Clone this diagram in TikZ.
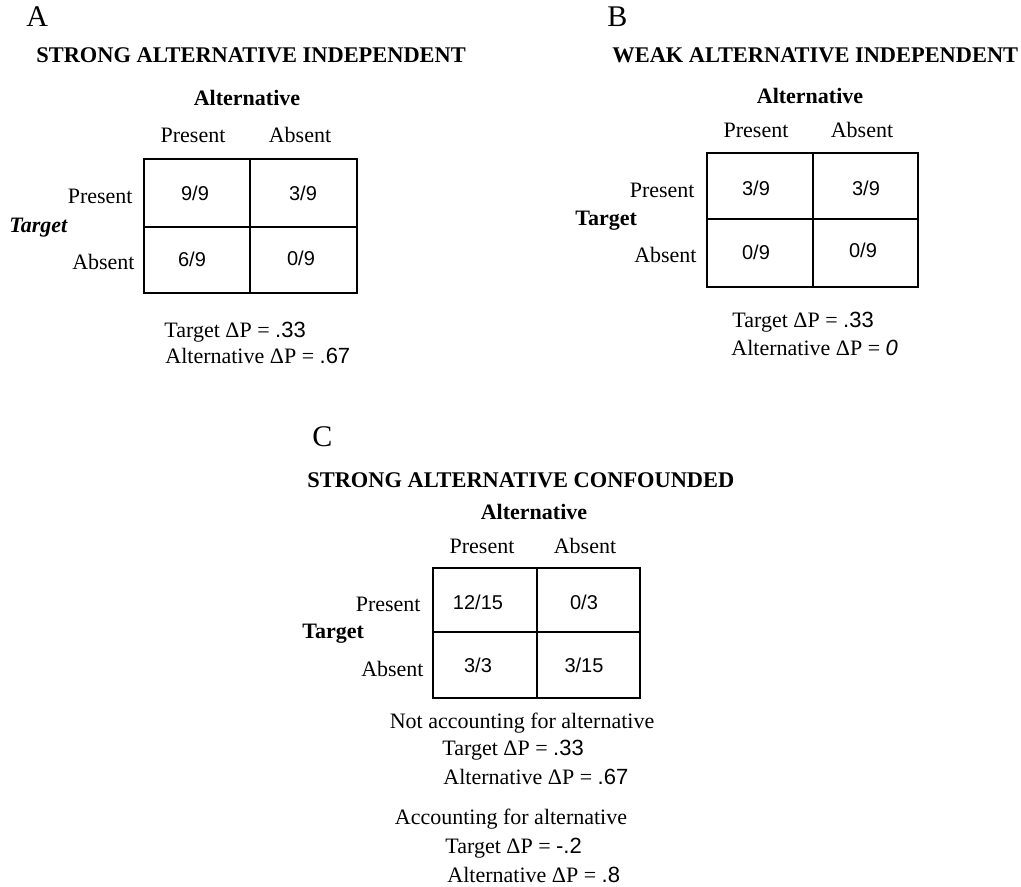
\documentclass[tikz,border=0pt]{standalone}
\usepackage{fontspec}
\setmainfont{Liberation Serif}
\newfontfamily\cellfont{Liberation Sans}

\begin{document}
\begin{tikzpicture}[x=0.5pt, y=-0.5pt, font=\fontsize{11}{13}\selectfont]
\tikzset{
  txt/.style={inner sep=0pt},
  letter/.style={txt, font=\fontsize{15}{17}\selectfont},
  heading/.style={txt, font=\bfseries\fontsize{11}{13}\selectfont},
  title/.style={txt, font=\bfseries\fontsize{11.2}{13}\selectfont},
  val/.style={txt, font=\cellfont\fontsize{10}{12}\selectfont},
  box/.style={line width=1pt}
}
\useasboundingbox (0,0) rectangle (1021,887);
%%
%panel A
\node[letter, anchor=base west] (A) at (26,27) {A};
\node[title, anchor=base west] (titleA) at (36,63) {STRONG ALTERNATIVE INDEPENDENT};
\node[heading, anchor=base] (altA) at (247,106) {Alternative};
\node[txt, anchor=base] (colpresA) at (193,143) {Present};
\node[txt, anchor=base] (colabsA) at (300,143) {Absent};
\node[txt, anchor=base east] (rowpresA) at (133,204) {Present};
\node[txt, anchor=base east] (rowabsA) at (135,270) {Absent};
\node[heading, anchor=base west, font=\bfseries\itshape\fontsize{11}{13}\selectfont] (targA) at (9,233) {Target};
%grid A
\draw[box] (144,159) rectangle (357,293);
\draw[box] (250,159) -- (250,293);
\draw[box] (144,227) -- (357,227);
\node[val] (aPP) at (195,193) {9/9};
\node[val] (aPA) at (303,193) {3/9};
\node[val] (aAP) at (192,259) {6/9};
\node[val] (aAA) at (301,258) {0/9};
%delta P
\node[txt, anchor=base west] (dtA) at (164,337) {Target ΔP = {\cellfont .33}};
\node[txt, anchor=base west] (daA) at (165,364) {Alternative ΔP = {\cellfont .67}};
%%
%panel B
\node[letter, anchor=base west] (B) at (607,27) {B};
\node[title, anchor=base west] (titleB) at (612,63) {WEAK ALTERNATIVE INDEPENDENT};
\node[heading, anchor=base] (altB) at (810,104) {Alternative};
\node[txt, anchor=base] (colpresB) at (756,138) {Present};
\node[txt, anchor=base] (colabsB) at (862,138) {Absent};
\node[txt, anchor=base east] (rowpresB) at (695,198) {Present};
\node[txt, anchor=base east] (rowabsB) at (697,263) {Absent};
\node[heading, anchor=base west] (targB) at (575,226) {Target};
%grid B
\draw[box] (707,153) rectangle (918,287);
\draw[box] (813,153) -- (813,287);
\draw[box] (707,219) -- (918,219);
\node[val] (bPP) at (756,188) {3/9};
\node[val] (bPA) at (866,188) {3/9};
\node[val] (bAP) at (756,252) {0/9};
\node[val] (bAA) at (863,250) {0/9};
%delta P
\node[txt, anchor=base west] (dtB) at (732,328) {Target ΔP = {\cellfont .33}};
\node[txt, anchor=base west] (daB) at (731,355) {Alternative ΔP = {\cellfont\itshape 0}};
%%
%panel C
\node[letter, anchor=base west] (C) at (312,446) {C};
\node[title, anchor=base west] (titleC) at (307,487) {STRONG ALTERNATIVE CONFOUNDED};
\node[heading, anchor=base] (altC) at (534,519) {Alternative};
\node[txt, anchor=base] (colpresC) at (482,553) {Present};
\node[txt, anchor=base] (colabsC) at (585,553) {Absent};
\node[txt, anchor=base east] (rowpresC) at (421,611) {Present};
\node[txt, anchor=base east] (rowabsC) at (424,676) {Absent};
\node[heading, anchor=base west] (targC) at (302,638) {Target};
%grid C
\draw[box] (433,568) rectangle (640,698);
\draw[box] (537,568) -- (537,698);
\draw[box] (433,632) -- (640,632);
\node[val] (cPP) at (478,602) {12/15};
\node[val] (cPA) at (584,602) {0/3};
\node[val] (cAP) at (478,665) {3/3};
\node[val] (cAA) at (584,665) {3/15};
%delta P
\node[txt, anchor=base] (notC) at (522,728) {Not accounting for alternative};
\node[txt, anchor=base west] (dtC) at (442,755) {Target ΔP = {\cellfont .33}};
\node[txt, anchor=base west] (daC) at (443,784) {Alternative ΔP = {\cellfont .67}};
\node[txt, anchor=base] (accC) at (511,824) {Accounting for alternative};
\node[txt, anchor=base west] (dtC2) at (445,853) {Target ΔP = {\cellfont -.2}};
\node[txt, anchor=base west] (daC2) at (447,882) {Alternative ΔP = {\cellfont .8}};
\end{tikzpicture}
\end{document}
